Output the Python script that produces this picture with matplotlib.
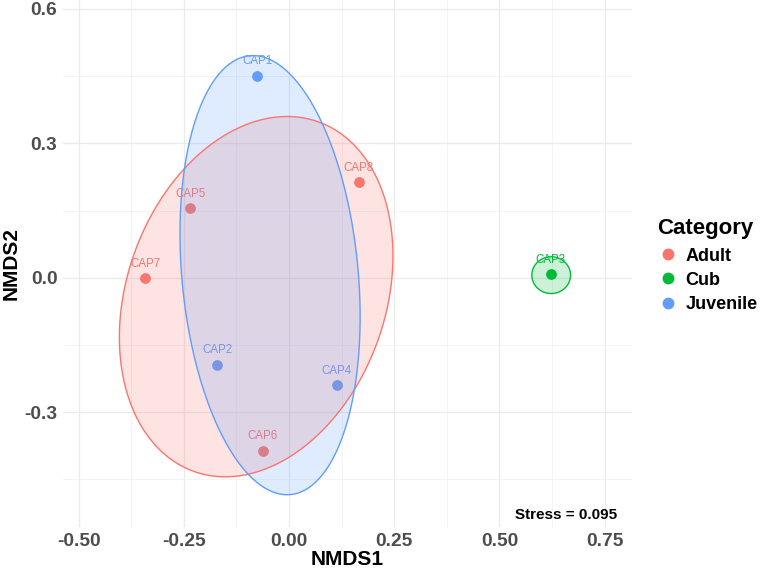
import numpy as np
import matplotlib
matplotlib.use("Agg")
import matplotlib.pyplot as plt
from matplotlib.lines import Line2D
from matplotlib.patches import Polygon

plt.rcParams['font.family'] = ['Liberation Sans', 'DejaVu Sans']

# ---- data ----
samples = ["CAP1", "CAP2", "CAP3", "CAP4", "CAP5", "CAP6", "CAP7", "CAP8"]
category = ["Juvenile", "Juvenile", "Cub", "Juvenile", "Adult", "Adult", "Adult", "Adult"]
nmds1 = [-0.076, -0.171, 0.622, 0.114, -0.235, -0.062, -0.342, 0.166]
nmds2 = [0.451, -0.194, 0.008, -0.239, 0.156, -0.386, 0.000, 0.214]

groups = ["Adult", "Cub", "Juvenile"]
group_colors = ["#F8766D", "#00BA38", "#619CFF"]
# ellipse parameters per group (center, half-extent in x and y, correlation)
ell_cx = [-0.078, 0.623, -0.045]
ell_cy = [-0.042, 0.006, 0.006]
ell_sx = [0.325, 0.046, 0.214]
ell_sy = [0.402, 0.041, 0.490]
ell_rho = [0.226, 0.0, -0.189]

stress = 0.095
xticks = [-0.50, -0.25, 0.00, 0.25, 0.50, 0.75]
yticks = [-0.3, 0.0, 0.3, 0.6]

cmap = dict(zip(groups, group_colors))

fig = plt.figure(figsize=(7.62, 5.71), dpi=100)
ax = fig.add_axes([63/762, 1 - 527/571, (632-63)/762, 527/571])

ax.set_xlim(-0.537, 0.815)
ax.set_ylim(-0.556, 0.62)

# grid (theme_minimal style)
ax.set_xticks(xticks)
ax.set_yticks(yticks)
ax.set_xticks([-0.375, -0.125, 0.125, 0.375, 0.625], minor=True)
ax.set_yticks([-0.45, -0.15, 0.15, 0.45], minor=True)
ax.grid(which='major', color='#EBEBEB', lw=1.0, zorder=0)
ax.grid(which='minor', color='#F2F2F2', lw=0.6, zorder=0)
ax.set_axisbelow(True)
for s in ax.spines.values():
    s.set_visible(False)
ax.tick_params(which='both', length=0)
ax.tick_params(axis='both', which='major', labelsize=13.8, labelcolor='#4D4D4D', pad=4)
ax.set_xticklabels([f"{v:.2f}" for v in xticks], fontweight='bold')
ax.set_yticklabels([f"{v:.1f}" for v in yticks], fontweight='bold')

# points and labels
for sname, cat, x, y in zip(samples, category, nmds1, nmds2):
    ax.scatter([x], [y], s=60, color=cmap[cat], zorder=2, linewidths=0)
    ax.annotate(sname, (x, y), xytext=(0, 6), textcoords='offset points',
                ha='center', va='bottom', fontsize=8.3, color=cmap[cat], zorder=3)

# ellipses
t = np.linspace(0, 2*np.pi, 240, endpoint=False)
for g, col, cx, cy, sx, sy, r in zip(groups, group_colors, ell_cx, ell_cy, ell_sx, ell_sy, ell_rho):
    ex = cx + sx*np.cos(t)
    ey = cy + sy*(r*np.cos(t) + np.sqrt(1 - r**2)*np.sin(t))
    xy = np.column_stack([ex, ey])
    ax.add_patch(Polygon(xy, closed=True, facecolor=col, alpha=0.2, lw=0, zorder=4))
    ax.add_patch(Polygon(xy, closed=True, fill=False, edgecolor=col, lw=1.0, zorder=5))

ax.text(0.78, -0.545, f"Stress = {stress:.3f}", ha='right', va='bottom',
        fontsize=11, fontweight='bold', color='black')

ax.set_xlabel("NMDS1", fontsize=15, fontweight='bold', color='black', labelpad=0)
ax.set_ylabel("NMDS2", fontsize=15, fontweight='bold', color='black', labelpad=3)

handles = [Line2D([0], [0], marker='o', ls='', color=c, markersize=7.5) for c in group_colors]
leg = fig.legend(handles, groups, loc='upper left', bbox_to_anchor=(650/762, 1 - 211/571),
                 frameon=False, title="Category", fontsize=13, handletextpad=0.35,
                 labelspacing=0.4, handlelength=1.2, borderaxespad=0)
leg.get_title().set_fontweight('bold')
leg.get_title().set_fontsize(16)
leg._legend_box.align = "left"
leg._legend_box.sep = 6
for txt in leg.get_texts():
    txt.set_fontweight('bold')

fig.savefig("out.png", dpi=100)
